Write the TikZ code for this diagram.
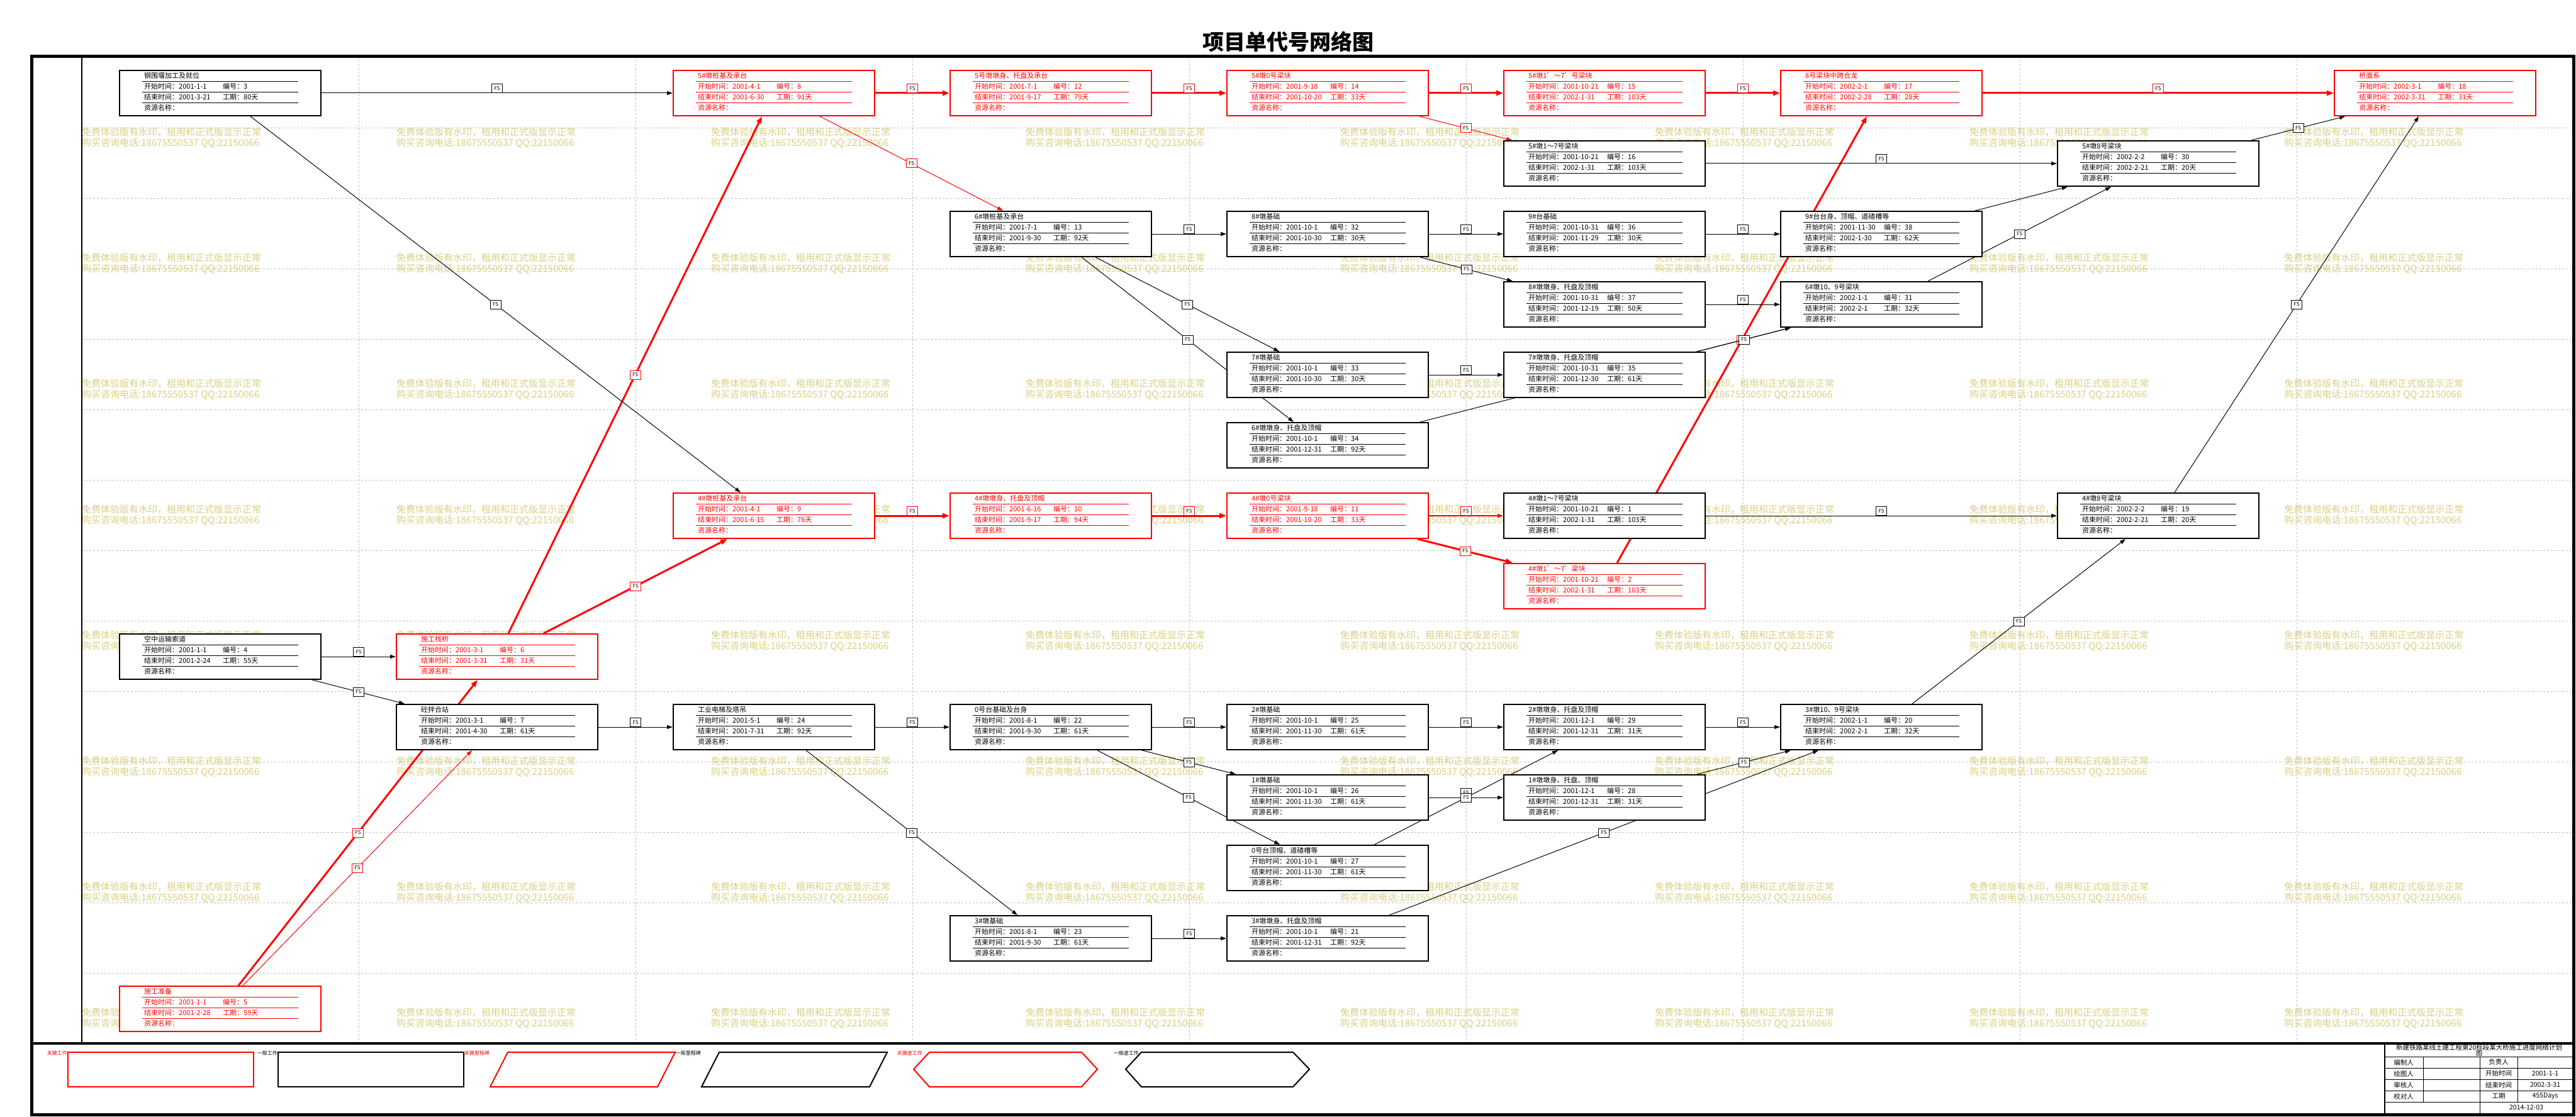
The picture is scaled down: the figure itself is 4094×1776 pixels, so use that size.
\documentclass[tikz,border=0pt]{standalone}
\usepackage{fontspec}
\setmainfont{Noto Sans CJK SC}
\usetikzlibrary{arrows.meta}

\definecolor{wmark}{RGB}{216,207,128}
\definecolor{gridc}{RGB}{190,190,190}

\pgfdeclarelayer{back}
\pgfdeclarelayer{links}
\pgfsetlayers{back,links,main}

\tikzset{
  box/.style={draw, fill=white, line width=2pt, minimum width=320pt,
    minimum height=72pt, anchor=north west, inner sep=0pt},
  txt/.style={anchor=west, inner sep=0pt, font=\fontsize{11}{11}\selectfont},
  link/.style={line width=1pt, -{Triangle[length=9pt,width=6pt]}},
  redlink/.style={link, red},
  crit/.style={link, red, line width=3pt, -{Triangle[length=11pt,width=8pt]}},
  fs/.style={draw, fill=white, text=black, line width=1pt, inner sep=0pt,
    minimum width=17pt, minimum height=14pt, font=\fontsize{8}{8}\selectfont},
  fsup/.style={fs, anchor=south},
  wm/.style={anchor=north west, inner sep=0pt, align=left, text=wmark,
    font=\fontsize{15}{17}\selectfont},
  gridline/.style={gridc, dashed, line width=0.8pt},
  lgd/.style={inner sep=0pt, anchor=north east, font=\fontsize{8}{8}\selectfont},
  cell/.style={inner sep=0pt, font=\fontsize{10.5}{11}\selectfont},
}

% one task: id, column, row, colour, title, start, end, days
\newcommand{\taskbox}[8]{%
  \node[box, draw=#4] (t#1) at ({189+440*#2},{111+112*#3}) {};
  \begin{scope}[shift={(t#1.north west)}, #4]
    \draw[line width=0.8pt] (37,18) -- (285,18) (37,35) -- (285,35) (37,52) -- (285,52);
    \node[txt] at (40,9) {#5};
    \node[txt] at (40,26.5) {开始时间：#6};
    \node[txt] at (165,26.5) {编号：#1};
    \node[txt] at (40,43.5) {结束时间：#7};
    \node[txt] at (165,43.5) {工期：#8天};
    \node[txt] at (40,60.5) {资源名称：};
  \end{scope}}

\begin{document}
\begin{tikzpicture}[x=1pt, y=-1pt]
\useasboundingbox (0,0) rectangle (4094,1776);

% title
\node[font=\fontsize{34}{34}\selectfont\bfseries] (title) at (2047,66) {项目单代号网络图};

% watermark and grid
\begin{pgfonlayer}{back}
  \foreach \wx in {130,630,...,3630}
    \foreach \wy in {203,403,...,1603}
      \node[wm] at (\wx,\wy) {免费体验版有水印，租用和正式版显示正常\\购买咨询电话:18675550537 QQ:22150066};
  \foreach \gx in {570,1010,...,3650}
    \draw[gridline] (\gx,90) -- (\gx,1659);
  \foreach \gy in {203,315,...,1547}
    \draw[gridline] (130,\gy) -- (4090,\gy);
\end{pgfonlayer}

% tasks
\taskbox{3}{0}{0}{black}{钢围堰加工及就位}{2001-1-1}{2001-3-21}{80}
\taskbox{4}{0}{8}{black}{空中运输索道}{2001-1-1}{2001-2-24}{55}
\taskbox{5}{0}{13}{red}{施工准备}{2001-1-1}{2001-2-28}{59}
\taskbox{6}{1}{8}{red}{施工栈桥}{2001-3-1}{2001-3-31}{31}
\taskbox{7}{1}{9}{black}{砼拌合站}{2001-3-1}{2001-4-30}{61}
\taskbox{8}{2}{0}{red}{5\#墩桩基及承台}{2001-4-1}{2001-6-30}{91}
\taskbox{9}{2}{6}{red}{4\#墩桩基及承台}{2001-4-1}{2001-6-15}{76}
\taskbox{24}{2}{9}{black}{工业电梯及塔吊}{2001-5-1}{2001-7-31}{92}
\taskbox{12}{3}{0}{red}{5号墩墩身、托盘及承台}{2001-7-1}{2001-9-17}{79}
\taskbox{13}{3}{2}{black}{6\#墩桩基及承台}{2001-7-1}{2001-9-30}{92}
\taskbox{10}{3}{6}{red}{4\#墩墩身、托盘及顶帽}{2001-6-16}{2001-9-17}{94}
\taskbox{22}{3}{9}{black}{0号台基础及台身}{2001-8-1}{2001-9-30}{61}
\taskbox{23}{3}{12}{black}{3\#墩基础}{2001-8-1}{2001-9-30}{61}
\taskbox{14}{4}{0}{red}{5\#墩0号梁块}{2001-9-18}{2001-10-20}{33}
\taskbox{32}{4}{2}{black}{8\#墩基础}{2001-10-1}{2001-10-30}{30}
\taskbox{33}{4}{4}{black}{7\#墩基础}{2001-10-1}{2001-10-30}{30}
\taskbox{34}{4}{5}{black}{6\#墩墩身、托盘及顶帽}{2001-10-1}{2001-12-31}{92}
\taskbox{11}{4}{6}{red}{4\#墩0号梁块}{2001-9-18}{2001-10-20}{33}
\taskbox{25}{4}{9}{black}{2\#墩基础}{2001-10-1}{2001-11-30}{61}
\taskbox{26}{4}{10}{black}{1\#墩基础}{2001-10-1}{2001-11-30}{61}
\taskbox{27}{4}{11}{black}{0号台顶帽、道碴槽等}{2001-10-1}{2001-11-30}{61}
\taskbox{21}{4}{12}{black}{3\#墩墩身、托盘及顶帽}{2001-10-1}{2001-12-31}{92}
\taskbox{15}{5}{0}{red}{5\#墩1'～7'号梁块}{2001-10-21}{2002-1-31}{103}
\taskbox{16}{5}{1}{black}{5\#墩1～7号梁块}{2001-10-21}{2002-1-31}{103}
\taskbox{36}{5}{2}{black}{9\#台基础}{2001-10-31}{2001-11-29}{30}
\taskbox{37}{5}{3}{black}{8\#墩墩身、托盘及顶帽}{2001-10-31}{2001-12-19}{50}
\taskbox{35}{5}{4}{black}{7\#墩墩身、托盘及顶帽}{2001-10-31}{2001-12-30}{61}
\taskbox{1}{5}{6}{black}{4\#墩1～7号梁块}{2001-10-21}{2002-1-31}{103}
\taskbox{2}{5}{7}{red}{4\#墩1'～7'梁块}{2001-10-21}{2002-1-31}{103}
\taskbox{29}{5}{9}{black}{2\#墩墩身、托盘及顶帽}{2001-12-1}{2001-12-31}{31}
\taskbox{28}{5}{10}{black}{1\#墩墩身、托盘、顶帽}{2001-12-1}{2001-12-31}{31}
\taskbox{17}{6}{0}{red}{8号梁块中跨合龙}{2002-2-1}{2002-2-28}{28}
\taskbox{38}{6}{2}{black}{9\#台台身、顶帽、道碴槽等}{2001-11-30}{2002-1-30}{62}
\taskbox{31}{6}{3}{black}{6\#墩10、9号梁块}{2002-1-1}{2002-2-1}{32}
\taskbox{20}{6}{9}{black}{3\#墩10、9号梁块}{2002-1-1}{2002-2-1}{32}
\taskbox{30}{7}{1}{black}{5\#墩8号梁块}{2002-2-2}{2002-2-21}{20}
\taskbox{19}{7}{6}{black}{4\#墩8号梁块}{2002-2-2}{2002-2-21}{20}
\taskbox{18}{8}{0}{red}{桥面系}{2002-3-1}{2002-3-31}{31}

% links
\begin{pgfonlayer}{links}
  % critical path
  \draw[crit] (t8.east) -- node[fsup] {FS} (t12.west);
  \draw[crit] (t12.east) -- node[fsup] {FS} (t14.west);
  \draw[crit] (t14.east) -- node[fsup] {FS} (t15.west);
  \draw[crit] (t15.east) -- node[fsup] {FS} (t17.west);
  \draw[crit] (t17.east) -- node[fsup] {FS} (t18.west);
  \draw[crit] (t9.east) -- node[fsup] {FS} (t10.west);
  \draw[crit] (t10.east) -- node[fsup] {FS} (t11.west);
  \draw[crit] ([xshift=304pt]t11.south west) -- node[fs] {FS} ([xshift=15pt]t2.north west);
  \draw[crit] ([xshift=181pt]t2.north west) -- node[fs] {FS} ([xshift=138pt]t17.south west);
  \draw[crit] ([xshift=235pt]t6.north west) -- node[fs] {FS} ([xshift=87pt]t9.south west);
  \draw[crit] ([xshift=179pt]t6.north west) -- node[fs] {FS} ([xshift=142pt]t8.south west);
  \draw[crit] ([xshift=190pt]t5.north west) -- node[fs] {FS} ([xshift=130pt]t6.south west);
  % other red links
  \draw[redlink] ([xshift=234pt]t8.south west) -- node[fs] {FS} ([xshift=85pt]t13.north west);
  \draw[redlink] ([xshift=307pt]t14.south west) -- node[fs] {FS} ([xshift=14pt]t16.north west);
  \draw[redlink] ([xshift=197pt]t5.north west) -- node[fs] {FS} ([xshift=121pt]t7.south west);
  \draw[redlink, line width=1.8pt] (t11.east) -- node[fsup] {FS} (t1.west);
  % ordinary links
  \draw[link] (t3.east) -- node[fsup] {FS} (t8.west);
  \draw[link] ([xshift=209pt]t3.south west) -- node[fs] {FS} ([xshift=108pt]t9.north west);
  \draw[link] (t16.east) -- node[fsup] {FS} (t30.west);
  \draw[link] ([xshift=309pt]t30.north west) -- node[fs] {FS} ([xshift=18pt]t18.south west);
  \draw[link] (t13.east) -- node[fsup] {FS} (t32.west);
  \draw[link] ([xshift=232pt]t13.south west) -- node[fs] {FS} ([xshift=84pt]t33.north west);
  \draw[link] ([xshift=210pt]t13.south west) -- node[fs] {FS} ([xshift=107pt]t34.north west);
  \draw[link] (t32.east) -- node[fsup] {FS} (t36.west);
  \draw[link] ([xshift=308pt]t32.south west) -- node[fs] {FS} ([xshift=15pt]t37.north west);
  \draw[link] (t36.east) -- node[fsup] {FS} (t38.west);
  \draw[link] (t37.east) -- node[fsup] {FS} (t31.west);
  \draw[link] ([xshift=310pt]t38.north west) -- ([xshift=17pt]t30.south west);
  \draw[link] ([xshift=235pt]t31.north west) -- node[fs] {FS} ([xshift=86pt]t30.south west);
  \draw[link] (t33.east) -- node[fsup] {FS} (t35.west);
  \draw[link] ([xshift=308pt]t34.north west) -- ([xshift=17pt]t31.south west);
  \draw[link] ([xshift=308pt]t35.north west) -- node[fs] {FS} ([xshift=17pt]t31.south west);
  \draw[link] (t1.east) -- node[fsup] {FS} (t19.west);
  \draw[link] ([xshift=210pt]t20.north west) -- node[fs] {FS} ([xshift=109pt]t19.south west);
  \draw[link] ([xshift=187pt]t19.north west) -- node[fs] {FS} ([xshift=135pt]t18.south west);
  \draw[link] (t4.east) -- node[fsup] {FS} (t6.west);
  \draw[link] ([xshift=307pt]t4.south west) -- node[fs] {FS} ([xshift=14pt]t7.north west);
  \draw[link] (t7.east) -- node[fsup] {FS} (t24.west);
  \draw[link] (t24.east) -- node[fsup] {FS} (t22.west);
  \draw[link] ([xshift=212pt]t24.south west) -- node[fs] {FS} ([xshift=108pt]t23.north west);
  \draw[link] (t22.east) -- node[fsup] {FS} (t25.west);
  \draw[link] ([xshift=306pt]t22.south west) -- node[fs] {FS} ([xshift=15pt]t26.north west);
  \draw[link] ([xshift=235pt]t22.south west) -- node[fs] {FS} ([xshift=85pt]t27.north west);
  \draw[link] (t25.east) -- node[fsup] {FS} (t29.west);
  \draw[link] (t26.east) -- node[fsup] {FS} (t28.west);
  \draw[link] ([xshift=235pt]t27.north west) -- node[fs] {FS} ([xshift=87pt]t29.south west);
  \draw[link] (t29.east) -- node[fsup] {FS} (t20.west);
  \draw[link] ([xshift=308pt]t28.north west) -- node[fs] {FS} ([xshift=17pt]t20.south west);
  \draw[link] (t23.east) -- node[fsup] {FS} (t21.west);
  \draw[link] ([xshift=259pt]t21.north west) -- node[fs] {FS} ([xshift=61pt]t20.south west);
\end{pgfonlayer}

% frame
\draw[line width=5pt] (50,90) rectangle (4090,1772);
\draw[line width=4pt] (50,1659) -- (4090,1659);
\draw[line width=2.5pt] (130,90) -- (130,1659);

% legend
\draw[red, line width=2pt] (108,1673) rectangle (403,1728);
\draw[line width=2pt] (442,1673) rectangle (737,1728);
\draw[red, line width=2pt] (779,1728) -- (807,1673) -- (1073,1673) -- (1045,1728) -- cycle;
\draw[line width=2pt] (1115,1728) -- (1143,1673) -- (1410,1673) -- (1382,1728) -- cycle;
\draw[red, line width=2pt] (1452,1700) -- (1477,1673) -- (1719,1673) -- (1744,1700) -- (1719,1728) -- (1477,1728) -- cycle;
\draw[line width=2pt] (1789,1700) -- (1814,1673) -- (2055,1673) -- (2081,1700) -- (2055,1728) -- (1814,1728) -- cycle;
\node[lgd, red] (lg1) at (107,1671) {关键工作};
\node[lgd] (lg2) at (441,1671) {一般工作};
\node[lgd, red] (lg3) at (778,1671) {关键里程碑};
\node[lgd] (lg4) at (1114,1671) {一般里程碑};
\node[lgd, red] (lg5) at (1466,1671) {关键虚工作};
\node[lgd] (lg6) at (1810,1671) {一般虚工作};

% title block
\draw[line width=2.5pt] (3790,1660) -- (3790,1772);
\foreach \ry in {1680,1698,1716,1734,1752}
  \draw[line width=1pt] (3790,\ry) -- (4090,\ry);
\draw[line width=1pt] (3851,1680) -- (3851,1752) (4001,1680) -- (4001,1752) (3941,1680) -- (3941,1772);
\node[cell, align=center] (tbl) at (3940,1670) {新建铁路某线土建工程第20标段某大桥施工进度网络计划\\[-2pt]图};
\node[cell] at (3820,1689) {编制人};
\node[cell] at (3971,1689) {负责人};
\node[cell] at (3820,1707) {绘图人};
\node[cell] at (3971,1707) {开始时间};
\node[cell] at (4045,1707) {2001-1-1};
\node[cell] at (3820,1725) {审核人};
\node[cell] at (3971,1725) {结束时间};
\node[cell] at (4045,1725) {2002-3-31};
\node[cell] at (3820,1743) {校对人};
\node[cell] at (3971,1743) {工期};
\node[cell] at (4045,1743) {455Days};
\node[cell] at (4015,1761) {2014-12-03};
\end{tikzpicture}
\end{document}
